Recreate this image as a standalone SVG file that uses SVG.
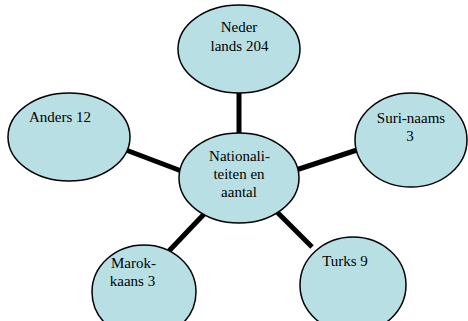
<svg xmlns="http://www.w3.org/2000/svg" width="468" height="321" viewBox="0 0 468 321">
<style>
.n{fill:#b8e0e4;stroke:#000;stroke-width:1.5}
.t{font-family:'Liberation Serif','Times New Roman',serif;font-size:15px;fill:#000;text-anchor:middle}
.c{stroke:#000;stroke-width:5;fill:none}
</style>
<rect width="468" height="321" fill="#fff"/>
<g id="connectors">
<line class="c" x1="239" y1="90" x2="239" y2="137"/>
<line class="c" x1="126" y1="150" x2="184" y2="172"/>
<line class="c" x1="296" y1="170" x2="357" y2="150"/>
<line class="c" x1="168" y1="252" x2="206" y2="212"/>
<line class="c" x1="277" y1="212" x2="312" y2="247"/>
</g>
<g id="nederlands">
<ellipse class="n" cx="239" cy="49" rx="61" ry="44"/>
<text class="t" x="239" y="32">Neder</text>
<text class="t" x="239.5" y="51">lands 204</text>
</g>
<g id="anders">
<ellipse class="n" cx="69" cy="137" rx="61" ry="44"/>
<text class="t" x="60" y="122">Anders 12</text>
</g>
<g id="surinaams">
<ellipse class="n" cx="411" cy="140" rx="56" ry="47"/>
<text class="t" x="411" y="123">Suri-naams</text>
<text class="t" x="410" y="141">3</text>
</g>
<g id="center">
<ellipse class="n" cx="239" cy="178" rx="60" ry="45"/>
<text class="t" x="239.5" y="161">Nationali-</text>
<text class="t" x="239" y="179">teiten en</text>
<text class="t" x="239" y="197">aantal</text>
</g>
<g id="marokkaans">
<ellipse class="n" cx="144" cy="292" rx="52" ry="47"/>
<text class="t" x="133.5" y="268">Marok-</text>
<text class="t" x="132.5" y="286">kaans 3</text>
</g>
<g id="turks">
<ellipse class="n" cx="353" cy="285" rx="53" ry="48"/>
<text class="t" x="345" y="266">Turks 9</text>
</g>
</svg>
